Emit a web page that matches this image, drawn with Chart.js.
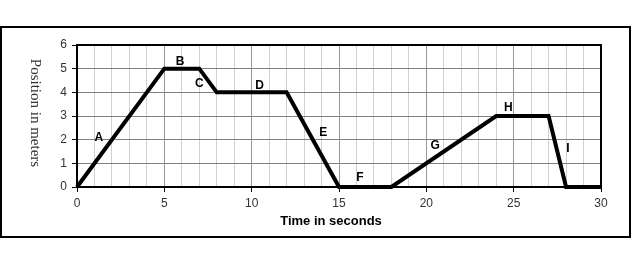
<!DOCTYPE html>
<html>
<head>
<meta charset="utf-8">
<script src="https://cdn.jsdelivr.net/npm/chart.js@4/dist/chart.umd.min.js"></script>
<style>
  html, body { margin: 0; padding: 0; background: #fff; }
  canvas { display: block; }
</style>
</head>
<body>
<canvas id="posChart" width="633" height="264"></canvas>
<script>
// tempo (s) e posição (m) nos pontos de quebra
const times = [0, 5, 7, 8, 12, 15, 18, 24, 27, 28, 30];
const positions = [0, 5, 5, 4, 4, 0, 0, 3, 3, 0, 0];

// letras de cada trecho e onde ficam (coordenadas dos dados)
const segLetters = ['A', 'B', 'C', 'D', 'E', 'F', 'G', 'H', 'I'];
const letterX = [1.25, 5.9, 7.0, 10.45, 14.1, 16.2, 20.5, 24.7, 28.1];
const letterY = [2.1, 5.3, 4.35, 4.3, 2.3, 0.4, 1.75, 3.35, 1.6];

const xTitle = 'Time in seconds';
const yTitle = 'Position in meters';

// moldura, letras e títulos
const extras = {
    id: 'extras',
    beforeDatasetsDraw(chart) {
        const { ctx, chartArea: a } = chart;
        ctx.save();
        ctx.strokeStyle = '#000';
        ctx.lineWidth = 2;
        ctx.strokeRect(a.left, a.top, a.right - a.left, a.bottom - a.top);
        ctx.restore();
    },
    afterDraw(chart) {
        const { ctx, scales } = chart;
        ctx.save();
        // moldura externa
        ctx.strokeStyle = '#000';
        ctx.lineWidth = 2;
        ctx.strokeRect(1, 27, 629, 210);

        ctx.fillStyle = '#000';
        ctx.font = 'bold 12px "Liberation Sans", Arial, sans-serif';
        ctx.textAlign = 'center';
        ctx.textBaseline = 'middle';
        segLetters.forEach((l, i) => {
            ctx.fillText(l, scales.x.getPixelForValue(letterX[i]), scales.y.getPixelForValue(letterY[i]));
        });

        ctx.font = 'bold 13px "Liberation Sans", Arial, sans-serif';
        ctx.fillText(xTitle, 331, 221);

        ctx.translate(35, 113);
        ctx.rotate(Math.PI / 2);
        ctx.font = '15px "Liberation Serif", "Times New Roman", serif';
        ctx.fillStyle = '#333';
        ctx.fillText(yTitle, 0, 0);
        ctx.restore();
    }
};

new Chart(document.getElementById('posChart'), {
    type: 'line',
    data: {
        datasets: [{
            data: times.map((t, i) => ({ x: t, y: positions[i] })),
            borderColor: '#000',
            borderWidth: 4,
            pointRadius: 0,
            tension: 0,
            clip: false
        }]
    },
    options: {
        responsive: false,
        animation: false,
        devicePixelRatio: 1,
        layout: { padding: { left: 0, top: 45, right: 32, bottom: 0 } },
        plugins: {
            legend: { display: false },
            tooltip: { enabled: false }
        },
        scales: {
            x: {
                type: 'linear',
                min: 0,
                max: 30,
                afterFit: s => { s.height = 77; },
                ticks: {
                    stepSize: 1,
                    autoSkip: false,
                    maxRotation: 0,
                    padding: 4,
                    color: '#333',
                    font: { family: '"Liberation Sans", Arial, sans-serif', size: 12 },
                    callback: v => (v % 5 === 0 ? String(v) : '')
                },
                grid: {
                    color: c => (c.tick && c.tick.value % 5 === 0 ? '#999' : '#d0d0d0'),
                    tickColor: c => (c.tick && c.tick.value % 5 === 0 ? '#000' : 'rgba(0,0,0,0)'),
                    tickLength: 5,
                    lineWidth: 1
                },
                border: { color: '#000', width: 2 }
            },
            y: {
                min: 0,
                max: 6,
                afterFit: s => { s.width = 77; },
                ticks: {
                    stepSize: 1,
                    padding: 5,
                    color: '#333',
                    font: { family: '"Liberation Sans", Arial, sans-serif', size: 12 }
                },
                grid: {
                    color: '#808080',
                    tickColor: '#000',
                    tickLength: 5,
                    lineWidth: 1
                },
                border: { color: '#000', width: 2 }
            }
        }
    },
    plugins: [extras]
});
</script>
</body>
</html>
